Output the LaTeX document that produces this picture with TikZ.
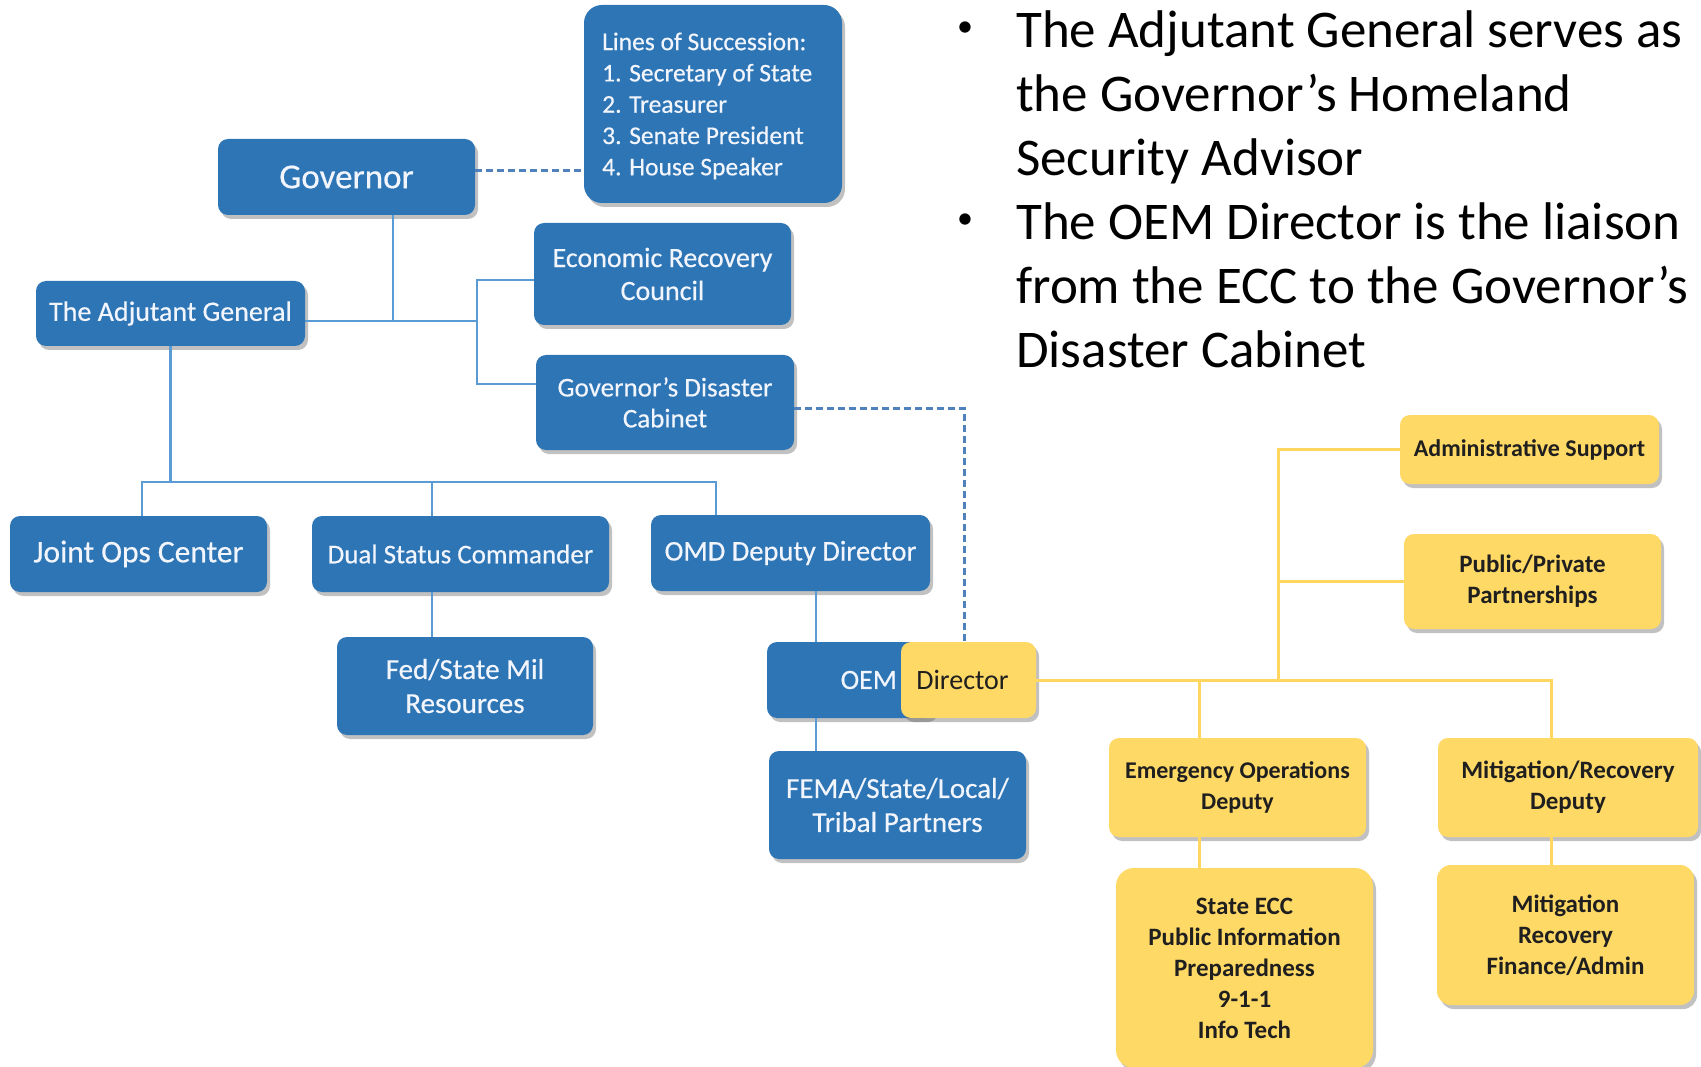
\documentclass[tikz,border=0pt]{standalone}
\usepackage{fontspec}
\setmainfont{Carlito}
\newfontfamily\bluefont{Carlito}[FakeBold=0.4]
\usetikzlibrary{shadows}
\definecolor{boxblue}{RGB}{46,117,182}
\definecolor{lineblue}{RGB}{91,155,213}
\definecolor{dashblue}{RGB}{79,129,189}
\definecolor{boxyellow}{RGB}{255,217,102}
\definecolor{lineyellow}{RGB}{255,214,95}
\definecolor{boxtext}{RGB}{242,246,252}
\newcommand\setfs[2]{\fontsize{#1}{#2}\selectfont}
\tikzset{
  basebox/.style={rounded corners=10pt, inner sep=4pt, align=center,
    drop shadow={shadow xshift=3pt, shadow yshift=-4pt, opacity=0.35, fill=black!70}},
  bluebox/.style={basebox, fill=boxblue, text=boxtext},
  yellowbox/.style={basebox, fill=boxyellow, text=black!88},
  conn/.style={draw=lineblue, line width=2.5pt},
  dashconn/.style={draw=dashblue, line width=3pt, dash pattern=on 7pt off 4pt},
  yconn/.style={draw=lineyellow, line width=3pt},
  bullettext/.style={anchor=base west, inner sep=0pt, font=\setfs{53}{64}},
  bulletdot/.style={anchor=base, inner sep=0pt, font=\setfs{32}{40}},
}
\begin{document}
\begin{tikzpicture}[x=1pt,y=-1pt]
\useasboundingbox (0,0) rectangle (1701,1067);

% blue boxes
\node[bluebox, minimum width=258pt, minimum height=198pt, rounded corners=18pt] (los) at (713,104) {};
\node[anchor=west, align=left, inner sep=0pt, text=boxtext, font=\bluefont\setfs{25.5}{31.3}] (lostext) at (602,106)
  {Lines of Succession:\\1. Secretary of State\\2. Treasurer\\3. Senate President\\4. House Speaker};
\node[bluebox, minimum width=257pt, minimum height=76pt, font=\bluefont\setfs{35}{40}] (gov) at (346.5,177) {Governor};
\node[bluebox, minimum width=269pt, minimum height=65pt, font=\bluefont\setfs{28}{33}] (adj) at (170.5,313.5) {The Adjutant General};
\node[bluebox, minimum width=257pt, minimum height=102pt, font=\bluefont\setfs{28}{33}] (erc) at (662.5,274) {Economic Recovery\\Council};
\node[bluebox, minimum width=258pt, minimum height=95pt, font=\bluefont\setfs{27}{31}] (gdc) at (665,402.5) {Governor’s Disaster\\Cabinet};
\node[bluebox, minimum width=257pt, minimum height=76pt, font=\bluefont\setfs{31.5}{35}] (joc) at (138.5,554) {Joint Ops Center};
\node[bluebox, minimum width=297pt, minimum height=76pt, font=\bluefont\setfs{27}{32}] (dsc) at (460.5,554) {Dual Status Commander};
\node[bluebox, minimum width=279pt, minimum height=76pt, font=\bluefont\setfs{28.5}{33}] (omd) at (790.5,553) {OMD Deputy Director};
\node[bluebox, minimum width=256pt, minimum height=98pt, font=\bluefont\setfs{29}{34}] (fsmr) at (465,686) {Fed/State Mil\\Resources};
\node[bluebox, minimum width=168pt, minimum height=76pt] (oem) at (851,680) {};
\node[anchor=east, inner sep=0pt, text=boxtext, font=\bluefont\setfs{28}{33}] (oemlabel) at (897,680) {OEM};
\node[yellowbox, minimum width=135pt, minimum height=76pt, font=\setfs{28}{33}] (dir) at (968.5,680) {Director\hspace*{12pt}};
\node[bluebox, minimum width=257pt, minimum height=108pt, font=\bluefont\setfs{29}{34}] (fema) at (897.5,805) {FEMA/State/Local/\\Tribal Partners};

% yellow boxes
\node[yellowbox, minimum width=259pt, minimum height=69pt, font=\bfseries\setfs{24}{30}] (adm) at (1529.5,449.5) {Administrative Support};
\node[yellowbox, minimum width=257pt, minimum height=95pt, font=\bfseries\setfs{25}{31}] (ppp) at (1532.5,581.5) {Public/Private\\Partnerships};
\node[yellowbox, minimum width=257pt, minimum height=99pt, font=\bfseries\setfs{24}{31}] (eod) at (1237.5,787.5) {Emergency Operations\\Deputy};
\node[yellowbox, minimum width=260pt, minimum height=99pt, font=\bfseries\setfs{25}{31}] (mrd) at (1568,787.5) {Mitigation/Recovery\\Deputy};
\node[yellowbox, minimum width=257pt, minimum height=200pt, rounded corners=18pt, font=\bfseries\setfs{25}{31}] (ecc) at (1244.5,968) {State ECC\\Public Information\\Preparedness\\9-1-1\\Info Tech};
\node[yellowbox, minimum width=257pt, minimum height=140pt, rounded corners=14pt, font=\bfseries\setfs{25}{31}] (mrf) at (1565.5,935) {Mitigation\\Recovery\\Finance/Admin};

% blue connectors
\coordinate (j1) at (393,321);
\coordinate (j2) at (477,321);
\coordinate (j3) at (477,280);
\coordinate (j4) at (477,384);
\draw[conn] (j1 |- gov.south) -- (j1);
\draw[conn] (j1 -| adj.east) -- (j2);
\draw[conn] (j3 -| erc.west) -- (j3) -- (j4) -- (j4 -| gdc.west);

\coordinate (b1) at (142,482);
\coordinate (b2) at (432,482);
\coordinate (b3) at (716,482);
\draw[conn] (adj.south) -- (adj.south |- b1);
\draw[conn] (b1 |- joc.north) -- (b1) -- (b3) -- (b3 |- omd.north);
\draw[conn] (b2) -- (b2 |- dsc.north);
\draw[conn] (b2 |- dsc.south) -- (b2 |- fsmr.north);
\coordinate (v1) at (816,600);
\draw[conn] (v1 |- omd.south) -- (v1 |- oem.north);
\draw[conn] (v1 |- oem.south) -- (v1 |- fema.north);

% dashed connectors
\coordinate (g1) at (500,171);
\draw[dashconn] (g1 -| gov.east) -- (g1 -| los.west);
\coordinate (d1) at (964,408);
\draw[dashconn] (d1 -| gdc.east) -- (d1) -- (d1 |- dir.north);

% yellow connectors
\coordinate (y1) at (1278,680);
\coordinate (y2) at (1199,680);
\coordinate (y3) at (1551,680);
\draw[yconn] (dir.east) -- (y3) -- (y3 |- mrd.north);
\draw[yconn] (y1) -- (y1 |- adm.west) -- (adm.west);
\draw[yconn] (y1 |- ppp.west) -- (ppp.west);
\draw[yconn] (y2) -- (y2 |- eod.north);
\draw[yconn] (y2 |- eod.south) -- (y2 |- ecc.north);
\draw[yconn] (y3 |- mrd.south) -- (y3 |- mrf.north);

% bullet text
\node[bulletdot] (dot1) at (965,37) {•};
\node[bullettext] (l1) at (1016,48) {The Adjutant General serves as};
\node[bullettext] (l2) at (1016,112) {the Governor’s Homeland};
\node[bullettext] (l3) at (1016,176) {Security Advisor};
\node[bulletdot] (dot2) at (965,229) {•};
\node[bullettext] (l4) at (1016,240) {The OEM Director is the liaison};
\node[bullettext] (l5) at (1016,304) {from the ECC to the Governor’s};
\node[bullettext] (l6) at (1016,368) {Disaster Cabinet};
\end{tikzpicture}
\end{document}
